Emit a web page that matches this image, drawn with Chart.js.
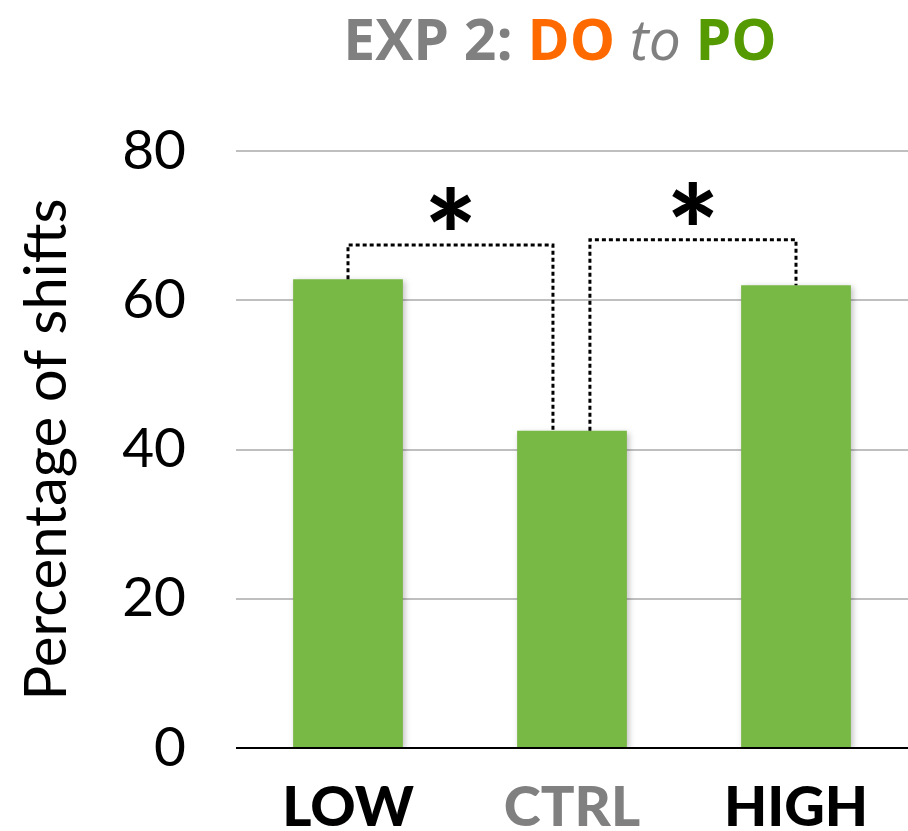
<!DOCTYPE html>
<html>
<head>
<meta charset="utf-8">
<script src="https://cdn.jsdelivr.net/npm/chart.js@4"></script>
<style>
  body { margin: 0; background: #fff; }
  #wrap { width: 908px; height: 831px; }
</style>
</head>
<body>
<div id="wrap"><canvas id="myChart" width="908" height="831"></canvas></div>
<script>
// data
const categories = ['LOW', 'CTRL', 'HIGH'];
const shiftValues = [62.8, 42.5, 62.0];
const labelColors = ['#000000', '#808080', '#000000'];
const yTicks = [0, 20, 40, 60, 80];

// significance brackets: [from category, to category, bracket height]
const brackets = [
	[0, 1, 67.4],
	[1, 2, 68.1]
];

// title pieces
const titleParts = [
	{text: 'EXP 2: ', color: '#808080', font: 'bold 57px "Open Sans"'},
	{text: 'DO', color: '#ff6a00', font: 'bold 57px "Open Sans"'},
	{text: ' to ', color: '#808080', font: 'italic 57px "Open Sans"'},
	{text: 'PO', color: '#559a00', font: 'bold 57px "Open Sans"'}
];

// draws the multi coloured title at the top
const titlePlugin = {
	id: 'titlePlugin',
	afterDraw(chart) {
		const ctx = chart.ctx;
		ctx.save();
		let total = 0;
		titleParts.forEach(p => {
			ctx.font = p.font;
			total += ctx.measureText(p.text).width;
		});
		let x = 560 - total / 2;
		ctx.textBaseline = 'alphabetic';
		titleParts.forEach(p => {
			ctx.font = p.font;
			ctx.fillStyle = p.color;
			ctx.fillText(p.text, x, 60);
			x += ctx.measureText(p.text).width;
		});
		ctx.restore();
	}
};

// dotted brackets + asterisks, placed through the scales
const bracketPlugin = {
	id: 'bracketPlugin',
	afterDatasetsDraw(chart) {
		const ctx = chart.ctx;
		const xs = chart.scales.x;
		const ys = chart.scales.y;
		const catW = xs.getPixelForValue(1) - xs.getPixelForValue(0);
		ctx.save();
		ctx.strokeStyle = '#000';
		ctx.lineWidth = 3;
		ctx.setLineDash([4, 3]);
		brackets.forEach(b => {
			let x1 = xs.getPixelForValue(b[0]);
			let x2 = xs.getPixelForValue(b[1]);
			// the leg on the CTRL bar is pushed off centre
			if (b[1] === 1) x2 -= catW * 0.085;
			if (b[0] === 1) x1 += catW * 0.08;
			const yTop = ys.getPixelForValue(b[2]);
			const y1 = ys.getPixelForValue(shiftValues[b[0]]);
			const y2 = ys.getPixelForValue(shiftValues[b[1]]);
			ctx.beginPath();
			ctx.moveTo(x1, y1);
			ctx.lineTo(x1, yTop);
			ctx.lineTo(x2, yTop);
			ctx.lineTo(x2, y2);
			ctx.stroke();

			ctx.font = '900 124px "Lato"';
			ctx.fillStyle = '#000';
			ctx.textAlign = 'center';
			ctx.textBaseline = 'alphabetic';
			const m = ctx.measureText('*');
			const centre = yTop - 37;
			ctx.fillText('*', (x1 + x2) / 2, centre + (m.actualBoundingBoxAscent - m.actualBoundingBoxDescent) / 2);
		});
		ctx.restore();
	}
};

// little drop shadow under the bars
const shadowPlugin = {
	id: 'shadowPlugin',
	beforeDatasetDraw(chart) {
		const ctx = chart.ctx;
		ctx.save();
		ctx.shadowColor = 'rgba(0,0,0,0.25)';
		ctx.shadowBlur = 6;
		ctx.shadowOffsetX = 2;
		ctx.shadowOffsetY = 2;
	},
	afterDatasetDraw(chart) {
		chart.ctx.restore();
	}
};

const myChart = document.getElementById('myChart');

let barChart = new Chart(myChart, {
	type: 'bar',
	data: {
		labels: categories,
		datasets: [{
			label: 'Percentage of shifts',
			data: shiftValues,
			backgroundColor: '#78b845',
			borderWidth: 0,
			categoryPercentage: 1,
			barPercentage: 0.49
		}]
	},
	options: {
		responsive: false,
		animation: false,
		layout: {
			padding: {top: 151, right: 0, bottom: -3, left: 0}
		},
		plugins: {
			legend: {display: false},
			tooltip: {enabled: false}
		},
		scales: {
			x: {
				grid: {display: false, drawTicks: false},
				border: {display: false},
				ticks: {
					color: labelColors,
					font: {family: 'Lato', size: 56, weight: '900'},
					padding: 26
				},
				afterFit(scale) { scale.height = 78; }
			},
			y: {
				min: 0,
				max: 80,
				afterBuildTicks(scale) {
					scale.ticks = yTicks.map(v => ({value: v}));
				},
				grid: {
					drawTicks: false,
					lineWidth: 2,
					color: ctx => ctx.tick && ctx.tick.value === 0 ? '#000000' : '#bfbfbf'
				},
				border: {display: false},
				ticks: {
					color: '#000',
					font: {family: 'Lato', size: 55},
					padding: 50
				},
				title: {
					display: true,
					text: 'Percentage of shifts',
					color: '#000',
					font: {family: 'Lato', size: 58},
					padding: {top: 12, bottom: 0}
				},
				afterFit(scale) { scale.width = 236; }
			}
		}
	},
	plugins: [titlePlugin, bracketPlugin, shadowPlugin]
});
</script>
</body>
</html>
